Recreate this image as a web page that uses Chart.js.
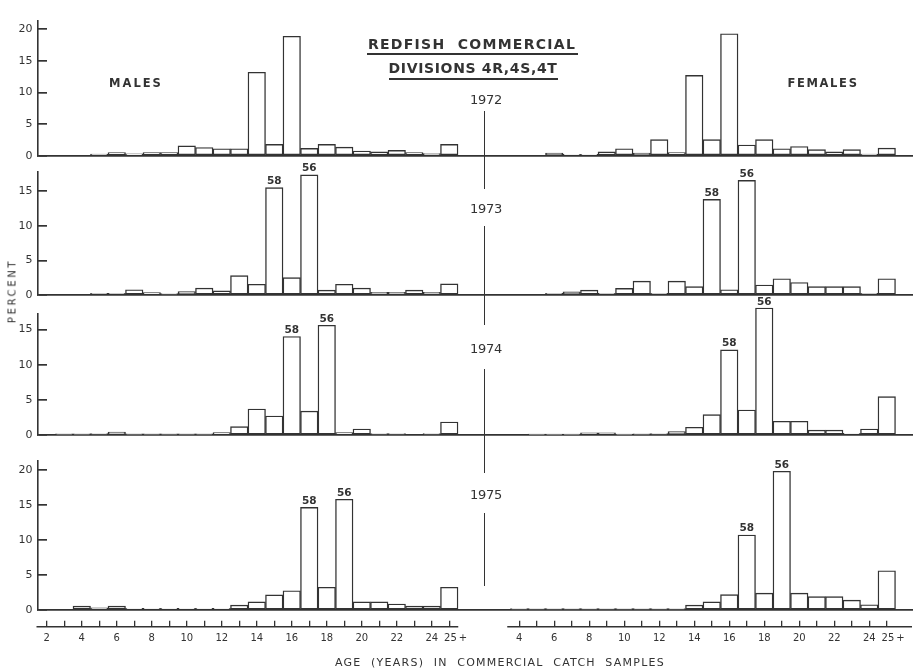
<!DOCTYPE html>
<html>
<head>
<meta charset="utf-8">
<script src="https://cdn.jsdelivr.net/npm/chart.js@4.4.0/dist/chart.umd.min.js"></script>
<style>
  html, body { margin: 0; padding: 0; background: #fff; }
  #wrap { position: relative; width: 914px; height: 668px; overflow: hidden; color: #333; font-family: 'DejaVu Sans', sans-serif; }
  #wrap canvas { position: absolute; left: 0; top: 0; }
  .txt { position: absolute; white-space: pre; line-height: 1; }
  .rule { position: absolute; background: #333; }
</style>
</head>
<body>
<div id="wrap">
  <canvas id="p0" width="914" height="668"></canvas>
  <canvas id="p1" width="914" height="668"></canvas>
  <canvas id="p2" width="914" height="668"></canvas>
  <canvas id="p3" width="914" height="668"></canvas>
  <canvas id="ax" width="914" height="668"></canvas>
</div>
<script>
// ages in the catch (males start at 2, females at 4)
const years = ['1972', '1973', '1974', '1975'];
const maleAges = ['2','3','4','5','6','7','8','9','10','11','12','13','14','15','16','17','18','19','20','21','22','23','24','25+'];
const femaleAges = ['4','5','6','7','8','9','10','11','12','13','14','15','16','17','18','19','20','21','22','23','24','25+'];

// percent at age
const male1972 = [null, null, null, 0.25, 0.5, 0.3, 0.5, 0.5, 1.55, 1.3, 1.1, 1.1, 13.2, 1.8, 18.9, 1.15, 1.8, 1.35, 0.75, 0.6, 0.85, 0.5, 0.35, 1.8];
const female1972 = [null, null, 0.4, 0.2, 0.2, 0.6, 1.1, 0.4, 2.55, 0.5, 12.7, 2.55, 19.3, 1.7, 2.55, 1.1, 1.45, 0.95, 0.6, 0.95, 0.25, 1.2];
const male1973 = [null, null, null, 0.25, 0.25, 0.75, 0.35, 0.2, 0.5, 1.0, 0.6, 2.8, 1.55, 15.5, 2.5, 17.35, 0.7, 1.55, 1.0, 0.4, 0.4, 0.7, 0.4, 1.6];
const female1973 = [null, null, 0.25, 0.45, 0.7, 0.25, 0.95, 2.0, 0.25, 2.0, 1.2, 13.8, 0.75, 16.55, 1.45, 2.35, 1.8, 1.2, 1.2, 1.2, 0.25, 2.35];
const male1974 = [null, 0.15, 0.15, 0.2, 0.4, 0.15, 0.15, 0.15, 0.15, 0.15, 0.35, 1.2, 3.7, 2.7, 14.0, 3.4, 15.6, 0.35, 0.85, 0.2, 0.2, null, 0.2, 1.85];
const female1974 = [null, 0.1, 0.1, 0.1, 0.3, 0.3, 0.1, 0.15, 0.2, 0.5, 1.1, 2.9, 12.1, 3.55, 18.05, 1.95, 1.95, 0.7, 0.7, 0.25, 0.85, 5.45];
const male1975 = [null, null, 0.55, 0.3, 0.55, 0.25, 0.25, 0.25, 0.25, 0.25, 0.25, 0.7, 1.15, 2.15, 2.75, 14.65, 3.25, 15.8, 1.15, 1.15, 0.85, 0.55, 0.55, 3.25];
const female1975 = [0.2, 0.2, 0.2, 0.2, 0.2, 0.2, 0.2, 0.2, 0.2, 0.2, 0.7, 1.15, 2.2, 10.7, 2.4, 19.8, 2.4, 1.9, 1.9, 1.4, 0.75, 5.6];

const maleData = [male1972, male1973, male1974, male1975];
const femaleData = [female1972, female1973, female1974, female1975];

// year-class marks (1958 and 1956) above the bars
const cohort58Age = [null, '15', '16', '17'];
const cohort56Age = [null, '17', '18', '19'];

const yMax = [21.3, 17.8, 17.3, 21.3];

// where each panel sits on the page (top of axis, zero line)
const panelBox = [
    { top: 7.3, bottom: 155.7 },
    { top: 171.7, bottom: 295 },
    { top: 313.3, bottom: 435 },
    { top: 460.7, bottom: 610 }
];

const ink = '#333';
Chart.defaults.font.family = "'DejaVu Sans', sans-serif";
Chart.defaults.color = ink;

const labels = maleAges.map(a => 'M' + a).concat(['g1', 'g2', 'g3'], femaleAges.map(a => 'F' + a), ['end']);

function cohortPlugin(p) {
    return {
        id: 'cohort' + p,
        afterDatasetsDraw(chart) {
            const meta = chart.getDatasetMeta(0);
            const ctx = chart.ctx;
            const marks = [[cohort58Age[p], '58'], [cohort56Age[p], '56']];
            ctx.save();
            ctx.font = "bold 10.5px 'DejaVu Sans'";
            ctx.fillStyle = ink;
            ctx.textAlign = 'center';
            ctx.textBaseline = 'bottom';
            marks.forEach(([age, txt]) => {
                if (!age) return;
                ['M', 'F'].forEach(sex => {
                    const bar = meta.data[labels.indexOf(sex + age)];
                    ctx.fillText(txt, bar.x, bar.y - 1);
                });
            });
            ctx.restore();
        }
    };
}

years.forEach((yr, p) => {
    const box = panelBox[p];
    const values = maleData[p].concat([null, null, null], femaleData[p], [null]);
    new Chart(document.getElementById('p' + p), {
        type: 'bar',
        data: {
            labels: labels,
            datasets: [{
                label: yr,
                data: values,
                backgroundColor: '#fff',
                borderColor: ink,
                borderWidth: 1.4,
                borderSkipped: false,
                barPercentage: 1,
                categoryPercentage: 1,
                clip: false
            }]
        },
        options: {
            responsive: false,
            animation: false,
            events: [],
            layout: { padding: { left: 0, right: 1, top: box.top, bottom: 668 - box.bottom } },
            plugins: { legend: { display: false }, tooltip: { enabled: false } },
            scales: {
                x: { display: false, offset: true },
                y: {
                    z: 1,
                    min: 0,
                    max: yMax[p],
                    afterFit: s => { s.width = 38; },
                    ticks: { stepSize: 5, includeBounds: false, padding: 14.5, font: { size: 11 } },
                    grid: {
                        color: c => (c.tick && c.tick.value === 0) ? ink : 'rgba(0,0,0,0)',
                        tickColor: ink,
                        tickLength: -9,
                        lineWidth: 1.7
                    },
                    border: { display: true, color: ink, width: 1.6 }
                }
            }
        },
        plugins: [cohortPlugin(p)]
    });
});

// shared age axis at the bottom
function tickText(lab) {
    if (lab[0] !== 'M' && lab[0] !== 'F') return null;
    const age = lab.slice(1);
    if (age === '25+') return '\u2007\u200725\u2009+';
    return (+age % 2 === 0) ? age : '';
}

const axisLine = {
    id: 'axisLine',
    afterDraw(chart) {
        const x = chart.scales.x;
        const area = chart.chartArea;
        const ctx = chart.ctx;
        const mEnd = x.getPixelForValue(labels.indexOf('M25+'));
        const fStart = x.getPixelForValue(labels.indexOf('F4'));
        ctx.save();
        ctx.strokeStyle = ink;
        ctx.lineWidth = 1.5;
        ctx.beginPath();
        ctx.moveTo(area.left - 1.5, area.bottom);
        ctx.lineTo(mEnd + 9, area.bottom);
        ctx.moveTo(fStart - 12, area.bottom);
        ctx.lineTo(area.right - 1, area.bottom);
        ctx.stroke();
        ctx.restore();
    }
};

new Chart(document.getElementById('ax'), {
    type: 'bar',
    data: { labels: labels, datasets: [] },
    options: {
        responsive: false,
        animation: false,
        events: [],
        layout: { padding: { left: 38, right: 1, top: 620.7, bottom: 0 } },
        plugins: { legend: { display: false }, tooltip: { enabled: false } },
        scales: {
            x: {
                type: 'category',
                offset: true,
                afterFit: s => { s.height = 41.3; },
                grid: { offset: false, drawTicks: false, color: ink, lineWidth: 1.3 },
                border: { display: false },
                ticks: { autoSkip: false, maxRotation: 0, padding: 5.5, font: { size: 10 },
                         callback: (v, i) => tickText(labels[i]) }
            },
            y: { display: false }
        }
    },
    plugins: [axisLine]
});

// lettering round the panels
const wrap = document.getElementById('wrap');
function addText(text, cx, cy, w, font, rotate) {
    const el = document.createElement('div');
    el.className = 'txt';
    el.textContent = text;
    el.style.font = font;
    wrap.appendChild(el);
    const natural = el.offsetWidth;
    const ls = (w - natural) / Math.max(1, text.length - 1);
    el.style.letterSpacing = ls + 'px';
    el.style.left = cx + 'px';
    el.style.top = cy + 'px';
    el.style.transform = 'translate(-50%, -50%)' + (rotate ? ' rotate(-90deg)' : '');
    return el;
}
function addRule(x, y, w, h) {
    const el = document.createElement('div');
    el.className = 'rule';
    el.style.left = x + 'px';
    el.style.top = y + 'px';
    el.style.width = w + 'px';
    el.style.height = h + 'px';
    wrap.appendChild(el);
}

addText('REDFISH  COMMERCIAL', 472, 44, 207, "bold 14px 'DejaVu Sans'");
addText('DIVISIONS 4R,4S,4T', 473, 68, 168, "bold 14px 'DejaVu Sans'");
addRule(367, 52.5, 211, 2);
addRule(389, 77.5, 169, 2);

addText('MALES', 136, 83, 52, "bold 11.5px 'DejaVu Sans'");
addText('FEMALES', 823, 83, 70, "bold 11.5px 'DejaVu Sans'");
addText('PERCENT', 12, 291, 62, "10px 'DejaVu Sans'", true);
addText('AGE  (YEARS)  IN  COMMERCIAL  CATCH  SAMPLES', 500, 662, 329, "11px 'DejaVu Sans'");

const yearY = [98.5, 207.5, 348, 494];
years.forEach((yr, p) => addText(yr, 486, yearY[p], 32, "13px 'DejaVu Sans'"));

// broken divider between the sexes
[[111, 189], [226, 325], [369, 473], [513, 586]].forEach(([a, b]) => addRule(483.5, a, 1.6, b - a));
</script>
</body>
</html>
